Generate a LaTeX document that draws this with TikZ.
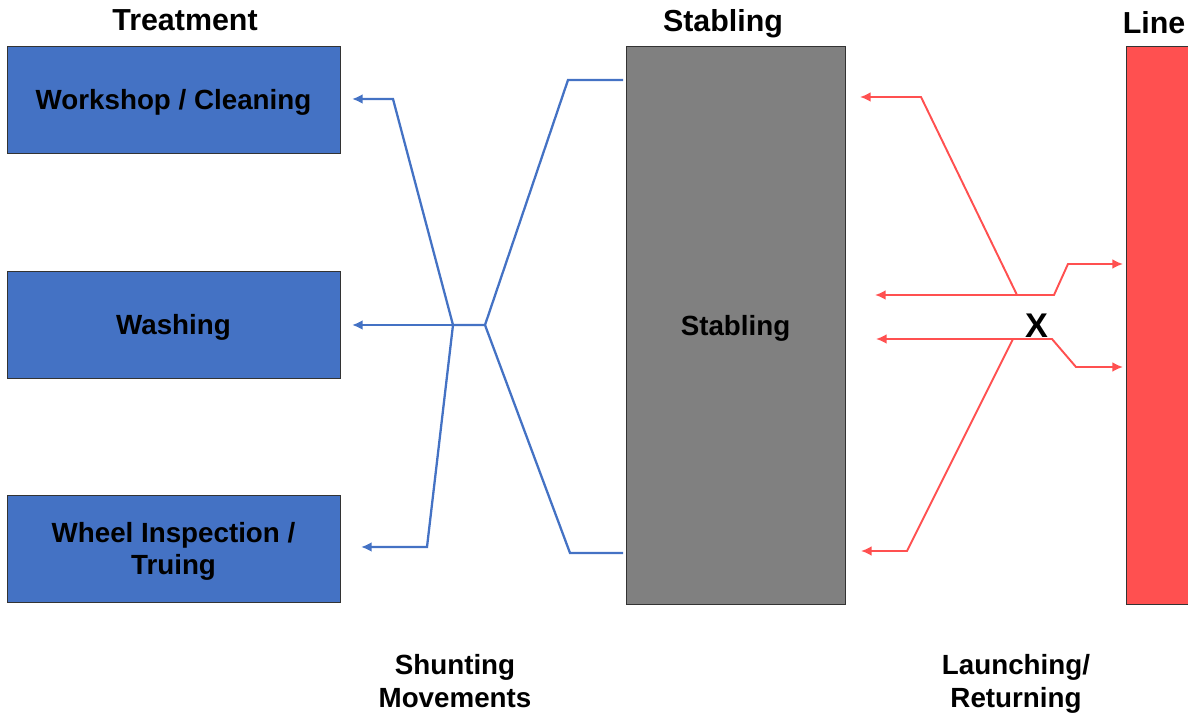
\documentclass[tikz,border=0pt]{standalone}
\usepackage{fontspec}
\setmainfont{Liberation Sans}
\usetikzlibrary{arrows.meta}
\definecolor{boxblue}{HTML}{4472C4}
\definecolor{linered}{HTML}{FF5050}
\definecolor{stabgray}{HTML}{808080}

\begin{document}
\begin{tikzpicture}[x=0.02cm,y=-0.02cm,
		font=\fontsize{15.8}{18.7}\selectfont\bfseries,
		every node/.style={text depth=0pt},
		treatbox/.style={draw=black!80,fill=boxblue,minimum width=6.66cm,minimum height=2.14cm,align=center,inner sep=0pt},
		title/.style={font=\fontsize{17.3}{20}\selectfont\bfseries},
		blueline/.style={boxblue,line width=1.3pt},
		redline/.style={linered,line width=1.1pt},
		arrowend/.style={-{Latex[length=6pt,width=5.5pt]}},
		arrowboth/.style={{Latex[length=6pt,width=5.5pt]}-{Latex[length=6pt,width=5.5pt]}}]
		\useasboundingbox (0,0) rectangle (1188,715);
		\clip (0,0) rectangle (1188,715);
		% boxes
		\node[treatbox] (workshop) at (173.5,99.5) {Workshop / Cleaning};
		\node[treatbox] (washing) at (173.5,324.5) {Washing};
		\node[treatbox] (wheel) at (173.5,548.5) {Wheel Inspection /\\Truing};
		\node[draw=black!80,fill=stabgray,minimum width=4.38cm,minimum height=11.16cm] (stabling) at (735.5,325) {Stabling};
		\node[draw=black!80,fill=linered,minimum width=2cm,minimum height=11.16cm] (line) at (1176,325) {};
		% titles
		\node[title] (ttreat) at (185,20) {Treatment};
		\node[title] (tstab) at (723,20) {Stabling};
		\node[title] (tline) at (1154,22) {Line};
		\node[align=center] (shunt) at (455,681) {Shunting\\Movements};
		\node[align=center] (launch) at (1016,681) {Launching/\\Returning};
		\node[font=\fontsize{19.5}{22}\selectfont\bfseries] (cross) at (1036.5,326) {X};
		% shunting
		\coordinate (stop) at (623,80);
		\coordinate (sbot) at (623,553);
		\coordinate (join) at (485,325);
		\coordinate (split) at (453,325);
		\draw[blueline] (stop) -- (568,80) -- (join)
			(sbot) -- (570,553) -- (join) -- (split);
		\draw[blueline,arrowend] (split) -- (393,99) -- (352,99);
		\draw[blueline,arrowend] (split) -- (352,325);
		\draw[blueline,arrowend] (split) -- (427,547) -- (361,547);
		% launching / returning
		\coordinate (rup) at (1017,295);
		\coordinate (rlow) at (1013,339);
		\draw[redline,arrowboth] (875,295) -- (1054,295) -- (1068,264) -- (1123,264);
		\draw[redline,arrowboth] (876,339) -- (1052,339) -- (1076,367) -- (1123,367);
		\draw[redline,arrowend] (rup) -- (921,97) -- (860,97);
		\draw[redline,arrowend] (rlow) -- (907,551) -- (861,551);
	\end{tikzpicture}
\end{document}
